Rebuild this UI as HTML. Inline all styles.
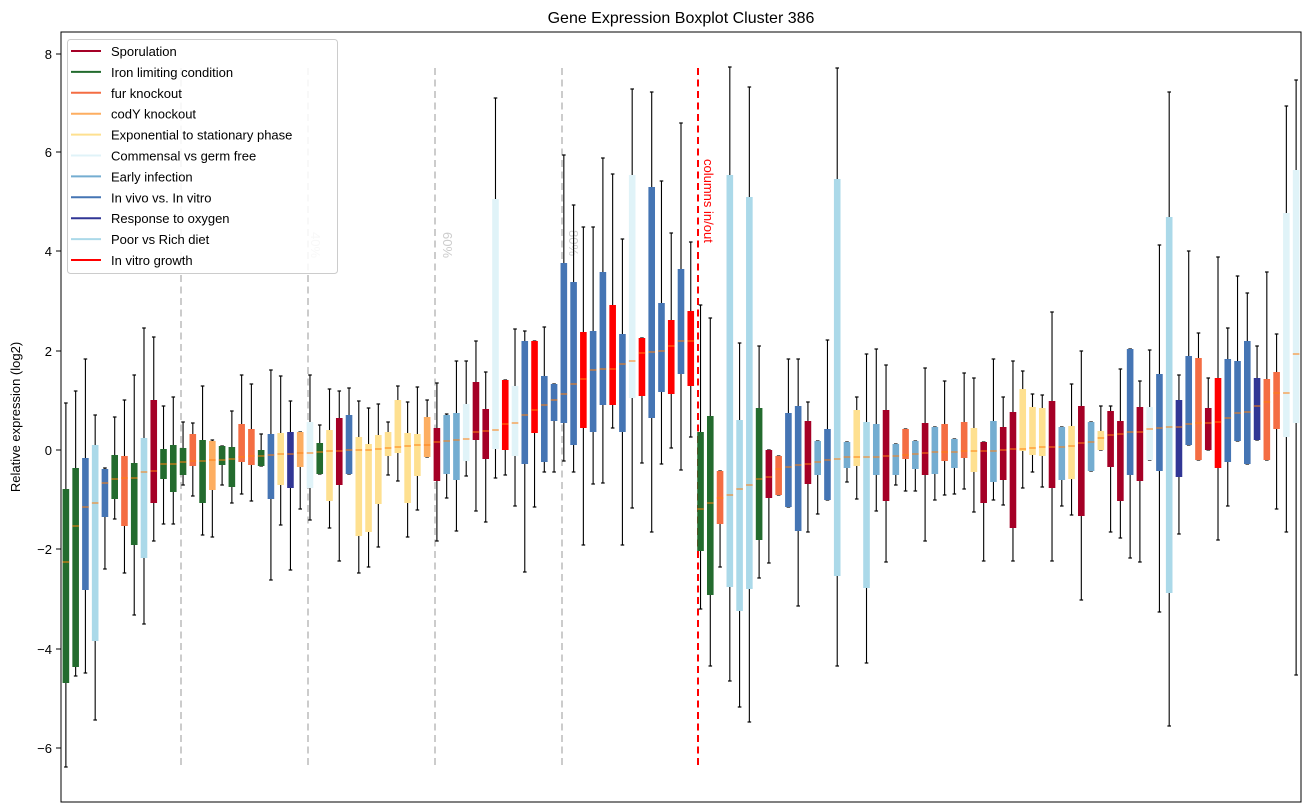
<!DOCTYPE html>
<html><head><meta charset="utf-8"><style>
body{margin:0;background:#fff;}
svg{display:block;font-family:"Liberation Sans","DejaVu Sans",sans-serif;}
</style></head><body>
<svg id="s" width="1309" height="812" xmlns="http://www.w3.org/2000/svg">
<rect width="1309" height="812" fill="#fff"/>
<text x="681" y="23" font-size="16" text-anchor="middle" fill="#000">Gene Expression Boxplot Cluster 386</text>
<text transform="translate(20,417) rotate(-90)" font-size="13" text-anchor="middle" fill="#000">Relative expression (log2)</text>
<g stroke="#ccc" stroke-width="2" stroke-dasharray="7,4.5">
<line x1="181" y1="68" x2="181" y2="767"/><line x1="308" y1="68" x2="308" y2="767"/>
<line x1="435" y1="68" x2="435" y2="767"/><line x1="562" y1="68" x2="562" y2="767"/>
</g>
<g fill="#ccc" font-size="13">
<text transform="translate(311,232) rotate(90)">40%</text>
<text transform="translate(443,232) rotate(90)">60%</text>
<text transform="translate(569,230) rotate(90)">80%</text>
</g>
<line x1="698" y1="68" x2="698" y2="767" stroke="#f00" stroke-width="2" stroke-dasharray="7,4.5"/>
<text transform="translate(704,159) rotate(90)" font-size="13" fill="#f00">columns in/out</text>
<g id="bx"></g>
<rect x="61" y="32" width="1240" height="770" fill="none" stroke="#000" stroke-width="1"/>
<g font-size="13" fill="#000" text-anchor="end">
<line x1="56" y1="54" x2="61" y2="54" stroke="#000"/><text x="52" y="59">8</text>
<line x1="56" y1="152" x2="61" y2="152" stroke="#000"/><text x="52" y="157">6</text>
<line x1="56" y1="251" x2="61" y2="251" stroke="#000"/><text x="52" y="256">4</text>
<line x1="56" y1="351" x2="61" y2="351" stroke="#000"/><text x="52" y="356">2</text>
<line x1="56" y1="450" x2="61" y2="450" stroke="#000"/><text x="52" y="455">0</text>
<line x1="56" y1="549" x2="61" y2="549" stroke="#000"/><text x="52" y="554">−2</text>
<line x1="56" y1="649" x2="61" y2="649" stroke="#000"/><text x="52" y="654">−4</text>
<line x1="56" y1="748" x2="61" y2="748" stroke="#000"/><text x="52" y="753">−6</text>
</g>
<g id="lg">
<rect x="67.5" y="39.5" width="270" height="234" rx="3" fill="#fff" fill-opacity="0.85" stroke="#ccc"/>
</g>
</svg>
<script>
var C={S:"#a50026",G:"#236b2e",F:"#f46d43",C:"#fdae61",Y:"#fee090",W:"#e0f3f8",E:"#74add1",B:"#4575b4",N:"#313695",L:"#abd9e9",R:"#ff0000"};
var D=[
["G",403,489,562,683,767],["G",391,468,526,667,676],["B",359,458,507,590,673],["L",415,445,503,641,720],["B",468,469,483,517,569],
["G",417,455,479,499,519],["F",400,456,478,526,573],["G",375,463,478,545,615],["L",328,438,472,558,624],["S",337,400,471,503,541],
["G",406,449,464,479,524],["G",397,445,464,492,524],["G",422,448,462,475,485],["F",423,434,461,466,496],["G",386,440,461,503,535],
["C",440,441,460,490,537],["G",446,446,460,465,485],["G",411,447,459,487,503],["F",375,424,457,462,494],["F",384,429,456,465,501],
["G",434,450,456,466,466],["B",370,434,455,499,580],["Y",376,433,454,485,525],["N",401,432,454,488,570],["C",432,432,453,467,509],
["W",375,422,453,488,520],["G",425,443,452,474,474],["Y",389,430,451,501,528],["S",391,418,451,485,561],["B",388,415,450,474,474],
["Y",401,437,450,536,573],["Y",408,444,450,532,567],["Y",404,435,449,504,547],["Y",422,432,448,456,475],["Y",386,400,447,453,481],
["Y",402,433,446,503,537],["Y",387,434,445,476,510],["C",400,417,445,457,457],["S",383,428,442,481,541],["E",414,415,441,474,498],
["E",361,413,440,480,531],["W",361,404,439,461,476],["S",341,382,432,440,511],["S",372,409,431,459,522],["W",98,199,430,449,478],
["R",380,380,424,450,475],["W",329,386,423,456,506],["B",331,341,415,464,572],["R",341,341,410,433,507],["B",327,376,405,462,472],
["B",384,384,400,421,472],["B",155,263,394,423,461],["B",205,282,384,445,472],["R",227,332,379,428,545],["B",227,331,370,432,484],
["B",158,272,369,405,483],["R",174,305,369,405,428],["B",239,334,364,432,545],["W",89,175,361,398,508],["R",338,338,353,396,463],
["B",92,187,352,418,532],["B",181,303,351,392,464],["R",233,320,346,394,448],["B",123,269,341,374,470],["R",242,311,341,386,437],
["G",305,432,509,551,609],["G",318,416,503,595,666],["F",471,471,498,524,567],["L",67,175,495,587,681],["L",343,420,489,611,707],
["L",87,197,485,589,722],["G",346,408,479,540,578],["S",450,450,477,498,563],["F",456,456,469,495,495],["B",359,413,467,507,507],
["B",359,406,465,531,606],["S",402,421,464,484,532],["E",441,441,462,475,514],["B",340,429,460,500,500],["L",68,179,459,576,666],
["E",442,442,457,468,482],["Y",397,410,457,466,499],["L",354,422,457,588,663],["E",349,424,457,475,511],["S",365,410,456,501,562],
["E",444,444,456,475,485],["F",429,429,455,459,491],["E",441,441,454,469,491],["S",368,423,453,475,541],["E",427,427,452,474,500],
["F",381,424,452,461,495],["E",439,439,452,468,494],["F",373,422,451,458,489],["Y",378,428,451,472,512],["S",442,442,451,503,561],
["E",359,421,451,482,500],["S",397,427,450,480,505],["S",361,412,449,528,561],["Y",371,389,449,451,488],["Y",394,407,448,455,472],
["Y",395,408,447,456,487],["S",312,401,447,488,561],["E",427,427,447,480,506],["Y",384,426,446,479,515],["S",351,406,443,516,600],
["E",422,422,442,471,471],["Y",406,431,438,450,450],["S",406,411,435,467,532],["S",369,421,434,501,538],["B",349,349,432,475,558],
["S",381,407,432,481,562],["W",350,407,429,460,460],["B",245,374,428,471,612],["L",92,217,427,593,726],["N",375,400,427,477,534],
["B",251,356,424,445,445],["F",333,358,423,460,460],["S",378,408,423,450,450],["R",257,378,422,468,540],["B",328,359,418,462,506],
["B",276,361,413,441,441],["B",293,341,412,464,464],["N",346,378,406,440,440],["F",272,379,402,460,460],["F",334,372,393,429,509],
["W",106,213,393,437,532],["W",80,170,354,423,675]];
var g=document.getElementById("bx"),h="";
var step=1240/127,w=6.6;
D.forEach(function(d,i){
 var x=61+(i+0.5)*step,c=C[d[0]];
 h+='<line x1="'+x+'" y1="'+d[1]+'" x2="'+x+'" y2="'+d[5]+'" stroke="#000" stroke-width="1.1"/>';
 h+='<line x1="'+(x-1.8)+'" y1="'+d[1]+'" x2="'+(x+1.8)+'" y2="'+d[1]+'" stroke="#000" stroke-width="1.2"/>';
 h+='<line x1="'+(x-1.8)+'" y1="'+d[5]+'" x2="'+(x+1.8)+'" y2="'+d[5]+'" stroke="#000" stroke-width="1.2"/>';
 var hh=Math.max(d[4]-d[2],1);
 h+='<rect x="'+(x-w/2)+'" y="'+d[2]+'" width="'+w+'" height="'+hh+'" fill="'+c+'"/>';
 h+='<line x1="'+(x-w/2)+'" y1="'+d[3]+'" x2="'+(x+w/2)+'" y2="'+d[3]+'" stroke="#ff7f0e" stroke-width="1"/>';
});
g.innerHTML=h;
var L=[["Sporulation","S"],["Iron limiting condition","G"],["fur knockout","F"],["codY knockout","C"],["Exponential to stationary phase","Y"],["Commensal vs germ free","W"],["Early infection","E"],["In vivo vs. In vitro","B"],["Response to oxygen","N"],["Poor vs Rich diet","L"],["In vitro growth","R"]];
var lg=document.getElementById("lg"),s="";
L.forEach(function(e,i){var y=51+i*20.9;
 s+='<line x1="71" y1="'+y+'" x2="101" y2="'+y+'" stroke="'+C[e[1]]+'" stroke-width="2"/>';
 s+='<text x="111" y="'+(y+5)+'" font-size="13" fill="#000">'+e[0]+'</text>';});
lg.innerHTML+=s;
</script>
</body></html>
